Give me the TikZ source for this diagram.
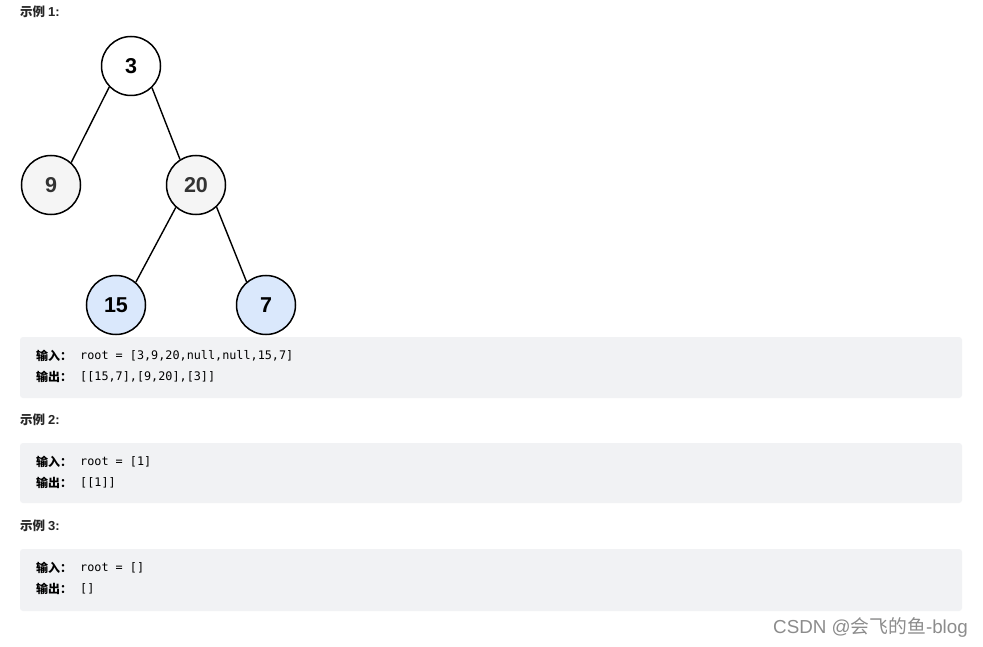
\documentclass[tikz,border=0pt]{standalone}
\usepackage{fontspec}
\setmainfont{Liberation Sans}
\newfontfamily\cjk{Noto Sans CJK SC}
\newfontfamily\monof{DejaVu Sans Mono}
\begin{document}
\begin{tikzpicture}[x=1pt,y=-1pt,
  treenode/.style={circle,draw=black,line width=1.5pt,minimum size=59pt,inner sep=0pt,font=\fontsize{21.5}{24}\selectfont\bfseries},
  edge/.style={line width=1.4pt,draw=black},
  codebox/.style={fill=boxgray,rounded corners=3pt,draw=none},
  heading/.style={anchor=west,inner sep=0pt,font=\cjk\bfseries\fontsize{12.5}{14}\selectfont,text=black!85},
  lab/.style={anchor=west,inner sep=0pt,font=\cjk\bfseries\fontsize{12}{14}\selectfont},
  code/.style={anchor=west,inner sep=0pt,font=\monof\fontsize{11.8}{14}\selectfont}]
\definecolor{boxgray}{HTML}{F1F2F4}
\definecolor{lightgray}{HTML}{F5F5F5}
\definecolor{lightblue}{HTML}{DAE8FC}
\useasboundingbox (0,0) rectangle (983,647);
\fill[white] (0,0) rectangle (983,647);
% heading 1
\node[heading] (h1) at (20,12) {示例 {\fontspec{Liberation Sans}\bfseries\fontsize{13}{14}\selectfont 1:}};
% tree
\node[treenode,fill=white] (n3) at (131,66) {3};
\node[treenode,fill=lightgray,text=black!80] (n9) at (51,185) {9};
\node[treenode,fill=lightgray,text=black!80] (n20) at (196,185) {20};
\node[treenode,fill=lightblue] (n15) at (116,305) {15};
\node[treenode,fill=lightblue] (n7) at (266,305) {7};
\draw[edge] (n3.224) -- (n9.48);
\draw[edge] (n3.314) -- (n20.122);
\draw[edge] (n20.228) -- (n15.49);
\draw[edge] (n20.313) -- (n7.130);
% box 1
\path[codebox] (20,337) rectangle (962,398);
\node[lab] (l1a) at (36,356) {输入：};
\node[code] (c1a) at (80,356) {root = [3,9,20,null,null,15,7]};
\node[lab] (l1b) at (36,377) {输出：};
\node[code] (c1b) at (80,377) {[[15,7],[9,20],[3]]};
% heading 2
\node[heading] (h2) at (20,420) {示例 {\fontspec{Liberation Sans}\bfseries\fontsize{13}{14}\selectfont 2:}};
\path[codebox] (20,443) rectangle (962,503);
\node[lab] (l2a) at (36,462) {输入：};
\node[code] (c2a) at (80,462) {root = [1]};
\node[lab] (l2b) at (36,483) {输出：};
\node[code] (c2b) at (80,483) {[[1]]};
% heading 3
\node[heading] (h3) at (20,526) {示例 {\fontspec{Liberation Sans}\bfseries\fontsize{13}{14}\selectfont 3:}};
\path[codebox] (20,549) rectangle (962,611);
\node[lab] (l3a) at (36,568) {输入：};
\node[code] (c3a) at (80,568) {root = []};
\node[lab] (l3b) at (36,589) {输出：};
\node[code] (c3b) at (80,589) {[]};
% watermark
\node[anchor=east,inner sep=0pt,text=black!45,font=\fontsize{18.8}{22}\selectfont] (wm) at (968,628) {CSDN @{\cjk 会飞的鱼}-blog};
\end{tikzpicture}
\end{document}
